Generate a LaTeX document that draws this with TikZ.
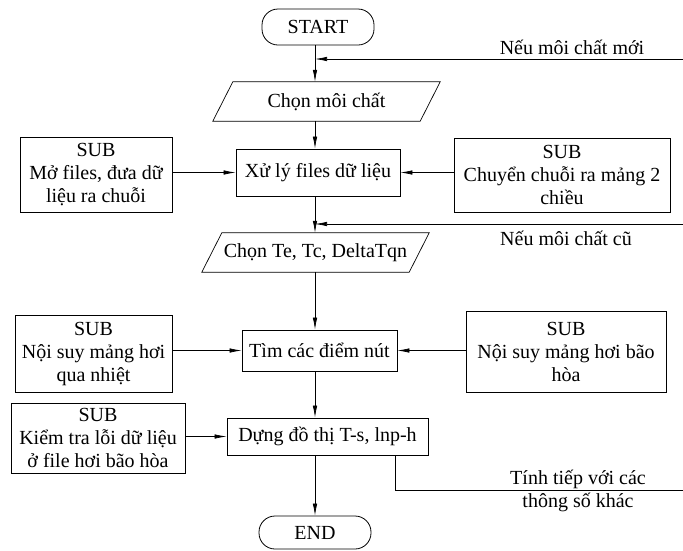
\documentclass[tikz,border=0pt]{standalone}
\usepackage{fontspec}
\setmainfont{LiberationSerif}[Extension=.ttf, UprightFont=*-Regular, BoldFont=*-Bold, ItalicFont=*-Italic, BoldItalicFont=*-BoldItalic]
\usetikzlibrary{arrows.meta}
\begin{document}
\begin{tikzpicture}[x=1pt,y=-1pt,
  font=\rmfamily\fontsize{20}{23}\selectfont,
  box/.style={draw, line width=0.8pt, align=center, inner sep=0pt},
  term/.style={draw, line width=0.8pt, rounded corners=16pt, inner sep=0pt},
  plain/.style={inner sep=0pt, align=center},
  arr/.style={line width=0.7pt, -{Latex[length=12pt,width=4.5pt]}},
  ln/.style={line width=0.7pt}]
\useasboundingbox (0,0) rectangle (683,550);
\coordinate (col) at (315,0);

% main column
\node[term, minimum width=112pt, minimum height=36pt] (start) at (318,27) {START};
\node[plain, minimum width=187pt, minimum height=39pt] (chon1) at (326.5,101.5) {Chọn môi chất};
\draw[ln] (chon1.north west) -- ([xshift=20pt]chon1.north east) -- (chon1.south east) -- ([xshift=-20pt]chon1.south west) -- cycle;
\node[box, minimum width=164pt, minimum height=47pt] (xuly) at (318,172.5) {Xử lý files dữ liệu};
\node[plain, minimum width=187pt, minimum height=39pt] (chon2) at (315.5,252.5) {Chọn Te, Tc, DeltaTqn};
\draw[ln] (chon2.north west) -- ([xshift=20pt]chon2.north east) -- (chon2.south east) -- ([xshift=-20pt]chon2.south west) -- cycle;
\node[box, minimum width=155pt, minimum height=41pt] (tim) at (319.5,350.5) {Tìm các điểm nút};
\node[box, minimum width=201pt, minimum height=37pt] (dung) at (327.5,436.5) {Dựng đồ thị T-s, lnp-h};
\node[term, minimum width=112pt, minimum height=33pt] (end) at (315,532.5) {END};

% side boxes
\node[box, minimum width=152pt, minimum height=75pt] (sub1) at (96,174.5) {SUB\\Mở files, đưa dữ\\liệu ra chuỗi};
\node[box, minimum width=216pt, minimum height=74pt] (sub2) at (562,175) {SUB\\Chuyển chuỗi ra mảng 2\\chiều};
\node[box, minimum width=157pt, minimum height=77pt] (sub3) at (93.5,353.5) {SUB\\Nội suy mảng hơi\\qua nhiệt};
\node[box, minimum width=200pt, minimum height=81pt] (sub4) at (566,351.5) {SUB\\Nội suy mảng hơi bão\\hòa};
\node[box, minimum width=174pt, minimum height=70pt] (sub5) at (98,438) {SUB\\Kiểm tra lỗi dữ liệu\\ở file hơi bão hòa};

% vertical flow
\draw[arr] (start.south -| col) -- (chon1.north -| col);
\draw[arr] (chon1.south -| col) -- (xuly.north -| col);
\draw[arr] (xuly.south -| col) -- (chon2.north -| col);
\draw[arr] (chon2.south -| col) -- (tim.north -| col);
\draw[arr] (tim.south -| col) -- (dung.north -| col);
\draw[arr] (dung.south -| col) -- (end.north -| col);

% side arrows
\draw[arr] (sub1.east |- xuly) -- (xuly.west);
\draw[arr] (sub2.west |- xuly) -- (xuly.east);
\draw[arr] (sub3.east |- tim) -- (tim.west);
\draw[arr] (sub4.west |- tim) -- (tim.east);
\draw[arr] (sub5.east |- dung) -- (dung.west);

% feedback lines
\coordinate (m1) at (683,59);
\coordinate (j1) at (315,59);
\draw[arr] (m1) -- (j1);
\node[plain] (tmoi) at (572,47) {Nếu môi chất mới};

\coordinate (m2) at (683,224);
\coordinate (j2) at (315,224);
\draw[arr] (m2) -- (j2);
\node[plain] (tcu) at (566,238) {Nếu môi chất cũ};

\coordinate (tx) at (395,490);
\coordinate (tend) at (683,490);
\draw[ln] (dung.south -| tx) -- (tx) -- (tend);
\node[plain] (ttiep) at (578,491) {Tính tiếp với các\\thông số khác};
\end{tikzpicture}
\end{document}
